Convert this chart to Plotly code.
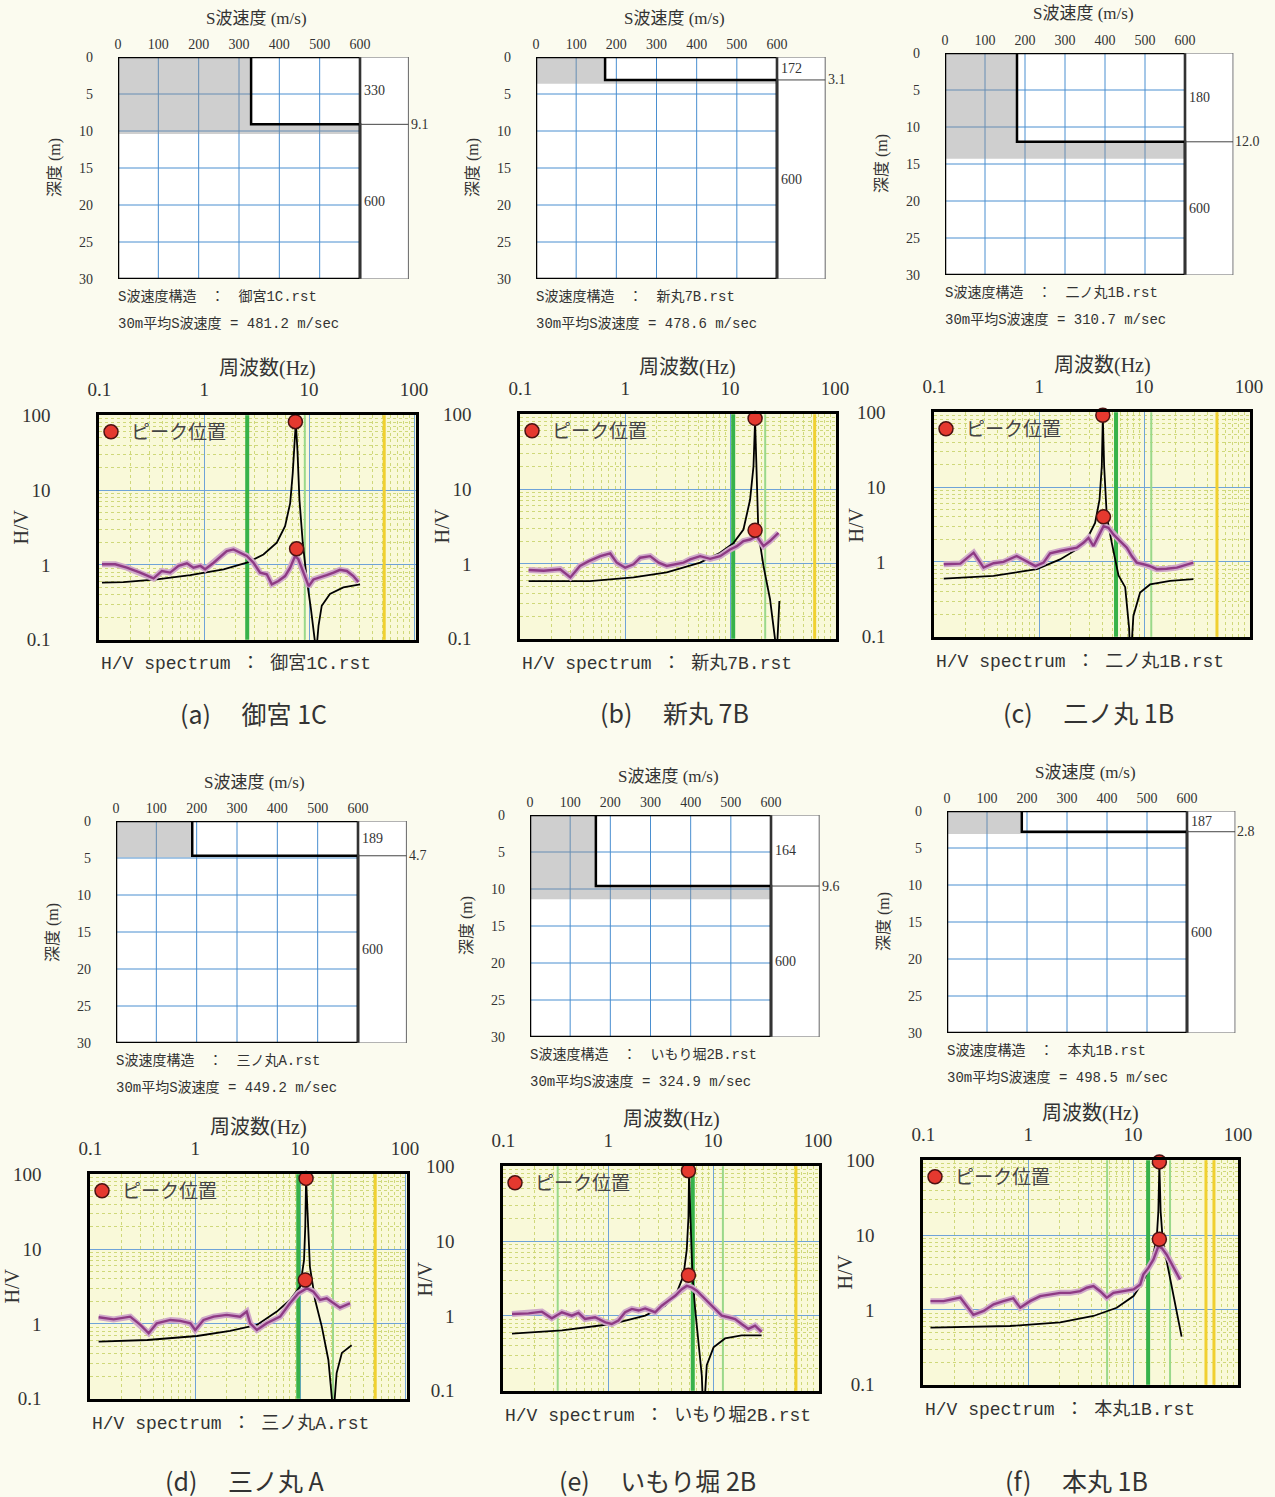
import plotly.graph_objects as go

# ---------------- data ----------------
SITE_NAMES = ["御宮1C", "新丸7B", "二ノ丸1B", "三ノ丸A", "いもり堀2B", "本丸1B"]
CAPTIONS = ["(a)　 御宮 1C", "(b)　 新丸 7B", "(c)　 二ノ丸 1B",
            "(d)　 三ノ丸 A", "(e)　 いもり堀 2B", "(f)　 本丸 1B"]
VS_LAYER1 = [330, 172, 180, 189, 164, 187]
H_LAYER1 = [9.1, 3.1, 12.0, 4.7, 9.6, 2.8]
VS_LAYER2 = [600, 600, 600, 600, 600, 600]
SHADE_DEPTH = [10.4, 3.6, 14.3, 4.9, 11.4, 3.1]
VS30 = [481.2, 478.6, 310.7, 449.2, 324.9, 498.5]

VS_TICKS = [0, 100, 200, 300, 400, 500, 600]
DEPTH_TICKS = [0, 5, 10, 15, 20, 25, 30]
FREQ_TICKS = [0.1, 1, 10, 100]
FREQ_TICKTEXT = ["0.1", "1", "10", "100"]
HV_TICKS = [0.1, 1, 10, 100]
HV_TICKTEXT = ["0.1", "1", "10", "100"]

# (a) 御宮1C
OBS_F_A = [0.106, 0.142, 0.183, 0.245, 0.329, 0.395, 0.474, 0.57, 0.684, 0.79, 0.92, 1.02, 1.23, 1.47,
           1.64, 1.90, 2.2, 2.55, 2.95, 3.41, 3.95, 4.41, 5.1, 5.9, 6.6, 7.36, 7.9, 8.8, 9.9, 11.0, 12.7,
           14.7, 17.1, 19.7, 22.9, 26.4, 29.5]
OBS_HV_A = [1.02, 1.02, 0.92, 0.79, 0.66, 0.83, 0.79, 0.97, 1.05, 0.92, 0.97, 0.875, 1.07, 1.32,
            1.53, 1.61, 1.46, 1.32, 1.07, 0.79, 0.75, 0.55, 0.61, 0.71, 0.92, 1.32, 1.19, 0.79, 0.52, 0.64, 0.68,
            0.73, 0.79, 0.86, 0.83, 0.71, 0.59]
THEO_F_A = [0.106, 0.17, 0.354, 0.736, 1.53, 2.55, 3.67, 4.92, 5.9, 6.6, 6.98, 7.3, 7.47, 7.74, 8.09,
            8.7, 9.5, 10.4, 11.2, 11.7, 12.3, 13.2, 15.8, 21.2, 30.6]
THEO_HV_A = [0.58, 0.59, 0.64, 0.73, 0.875, 1.07, 1.38, 1.98, 3.29, 6.7, 16.8, 46.6, 81, 34, 7.4,
             1.98, 0.64, 0.26, 0.126, 0.068, 0.155, 0.285, 0.41, 0.50, 0.55]
PEAK_F_A = [7.4, 7.6]
PEAK_HV_A = [82, 1.64]

# (b) 新丸7B
OBS_F_B = [0.12, 0.167, 0.24, 0.30, 0.37, 0.45, 0.58, 0.72, 0.83, 1.0, 1.2, 1.39, 1.73, 2.08, 2.49,
           2.99, 3.6, 4.16, 5.18, 6.45, 8.03, 10.0, 11.6, 13.4, 15.5, 17.9, 20.8, 24.0, 28.9]
OBS_HV_B = [0.83, 0.81, 0.85, 0.66, 0.94, 1.09, 1.27, 1.38, 1.04, 0.89, 0.99, 1.21, 1.27, 1.04, 0.94,
            0.99, 1.04, 1.15, 1.27, 1.17, 1.27, 1.56, 1.73, 2.02, 2.12, 2.35, 1.73, 2.02, 2.6]
THEO_F_B = [0.12, 0.46, 1.2, 2.49, 5.18, 8.03, 10.8, 13.4, 15.5, 16.7, 17.3, 17.9, 18.6, 20.8, 24.0,
            26.8, 27.6, 28.3, 29.5]
THEO_HV_B = [0.59, 0.59, 0.66, 0.77, 1.04, 1.41, 1.91, 2.88, 7.2, 20, 83, 20, 2.6, 0.94, 0.34,
             0.1, 0.05, 0.1, 0.32]
PEAK_F_B = [17.3, 17.3]
PEAK_HV_B = [88, 2.82]

# (c) 二ノ丸1B
OBS_F_C = [0.123, 0.177, 0.237, 0.295, 0.367, 0.457, 0.61, 0.76, 0.92, 1.1, 1.27, 1.58, 1.97, 2.28,
           2.64, 2.95, 3.29, 3.67, 4.1, 4.57, 5.1, 5.9, 6.84, 7.63, 8.5, 9.86, 11.4, 13.2, 16.4, 20.5,
           25.5, 29.5]
OBS_HV_C = [0.93, 0.95, 1.33, 0.84, 0.96, 1.0, 1.2, 1.03, 0.88, 0.98, 1.3, 1.4, 1.47, 1.55,
            1.8, 2.1, 1.63, 2.21, 3.0, 2.85, 2.33, 1.9, 1.55, 1.2, 0.98, 0.93, 0.88, 0.8, 0.81, 0.84,
            0.93, 0.98]
THEO_F_C = [0.123, 0.367, 0.95, 1.58, 2.28, 2.84, 3.41, 3.76, 3.95, 4.04, 4.16, 4.41, 4.92, 5.7, 6.6,
            7.2, 7.4, 7.9, 9.16, 11.4, 17.7, 29.5]
THEO_HV_C = [0.6, 0.65, 0.8, 1.08, 1.47, 2.0, 3.32, 6.8, 18.8, 87, 18.8, 4.07, 1.8, 0.66, 0.46,
             0.13, 0.04, 0.19, 0.39, 0.5, 0.56, 0.59]
PEAK_F_C = [4.04, 4.1]
PEAK_HV_C = [91, 4.0]

# (d) 三ノ丸A
OBS_F_D = [0.12, 0.167, 0.24, 0.30, 0.36, 0.43, 0.58, 0.72, 0.9, 1.0, 1.2, 1.5, 2.0, 2.68, 3.1,
           3.34, 3.87, 4.8, 6.45, 8.0, 9.6, 11.6, 13.4, 15.5, 17.9, 20.8, 24.0, 30.0]
OBS_HV_D = [1.23, 1.15, 1.25, 0.97, 0.75, 1.02, 1.13, 1.1, 1.02, 0.83, 1.13, 1.25, 1.32, 1.25, 1.46,
            1.02, 0.83, 1.02, 1.25, 1.89, 2.56, 3.0, 2.7, 2.09, 2.2, 1.89, 1.65, 1.89]
THEO_F_D = [0.12, 0.35, 1.04, 2.15, 3.87, 6.0, 8.0, 10.0, 10.9, 11.2, 11.4, 11.9, 12.4, 13.9, 16.1,
            18.6, 20.2, 20.8, 22.3, 25.0, 31.0]
THEO_HV_D = [0.58, 0.61, 0.69, 0.81, 0.97, 1.46, 2.09, 3.15, 7.1, 19.9, 88, 19.9, 5.8, 2.09, 0.92,
             0.33, 0.097, 0.06, 0.22, 0.41, 0.52]
PEAK_F_D = [11.4, 11.2]
PEAK_HV_D = [88, 3.86]

# (e) いもり堀2B
OBS_F_E = [0.121, 0.174, 0.233, 0.29, 0.362, 0.45, 0.52, 0.6, 0.75, 0.94, 1.08, 1.25, 1.45, 1.68,
           1.95, 2.25, 2.8, 3.24, 3.76, 4.35, 5.03, 5.61, 6.26, 6.98, 7.8, 9.0, 10.4, 12.1, 14.0, 16.2,
           18.7, 21.7, 25.1, 29.0]
OBS_HV_E = [1.06, 1.08, 1.14, 0.93, 1.12, 1.01, 1.1, 0.91, 0.96, 0.82, 0.78, 0.87, 1.12, 1.24,
            1.18, 1.26, 1.12, 1.37, 1.6, 1.86, 2.28, 2.52, 2.4, 2.17, 1.86, 1.52, 1.24, 1.01, 0.96, 0.91,
            0.78, 0.67, 0.74, 0.61]
THEO_F_E = [0.121, 0.362, 1.08, 2.25, 3.49, 4.51, 5.21, 5.61, 5.82, 5.9, 6.08, 6.36, 6.74, 7.25, 7.8,
            8.1, 8.7, 10.1, 13.0, 18.7, 29.0]
THEO_HV_E = [0.58, 0.64, 0.78, 1.01, 1.37, 2.06, 3.42, 7.7, 21, 88, 21, 3.42, 1.24, 0.45, 0.16,
             0.04, 0.22, 0.38, 0.5, 0.55, 0.55]
PEAK_F_E = [5.82, 5.82]
PEAK_HV_E = [87, 3.49]

# (f) 本丸1B
OBS_F_F = [0.117, 0.156, 0.225, 0.30, 0.376, 0.468, 0.58, 0.72, 0.84, 1.04, 1.3, 1.62, 2.02, 2.51,
           3.13, 3.62, 4.19, 4.85, 5.61, 6.5, 8.09, 10.1, 11.7, 12.5, 14.0, 15.6, 17.4, 18.8, 20.9,
           24.2, 28.0]
OBS_HV_F = [1.31, 1.31, 1.46, 0.86, 0.97, 1.19, 1.31, 1.43, 1.07, 1.31, 1.53, 1.61, 1.69, 1.69,
            1.78, 1.98, 2.08, 1.78, 1.46, 1.69, 1.78, 1.88, 2.19, 2.97, 3.64, 4.7, 7.06, 6.7, 5.47,
            3.64, 2.55]
THEO_F_F = [0.117, 0.67, 2.02, 4.19, 6.98, 10.1, 12.5, 15.1, 16.8, 17.4, 17.8, 18.3, 19.2, 20.9, 24.2, 29.0]
THEO_HV_F = [0.58, 0.61, 0.68, 0.83, 1.07, 1.53, 2.41, 4.47, 9.1, 20.6, 90, 20.6, 8.2, 4.47, 1.61, 0.44]
PEAK_F_F = [17.8, 17.8]
PEAK_HV_F = [95, 8.8]

# reference frequency lines (Hz)
GREEN_THICK_F = [[2.57], [10.7], [5.4], [9.6], [6.4], [13.9]]
GREEN_LIGHT_F = [[9.1], [21.6], [11.7], [20.6], [0.33, 12.4], [5.65, 22.5]]
YELLOW_F = [[52], [64], [49.5], [52], [61.6], [49.5, 59]]

OBS_F = [OBS_F_A, OBS_F_B, OBS_F_C, OBS_F_D, OBS_F_E, OBS_F_F]
OBS_HV = [OBS_HV_A, OBS_HV_B, OBS_HV_C, OBS_HV_D, OBS_HV_E, OBS_HV_F]
THEO_F = [THEO_F_A, THEO_F_B, THEO_F_C, THEO_F_D, THEO_F_E, THEO_F_F]
THEO_HV = [THEO_HV_A, THEO_HV_B, THEO_HV_C, THEO_HV_D, THEO_HV_E, THEO_HV_F]
PEAK_F = [PEAK_F_A, PEAK_F_B, PEAK_F_C, PEAK_F_D, PEAK_F_E, PEAK_F_F]
PEAK_HV = [PEAK_HV_A, PEAK_HV_B, PEAK_HV_C, PEAK_HV_D, PEAK_HV_E, PEAK_HV_F]

# ---------------- layout / style ----------------
W, H = 1275, 1497
SERIF = "Liberation Serif, Noto Sans CJK JP, serif"
MONO = "Liberation Mono, Noto Sans CJK JP, monospace"
SANS = "Noto Sans CJK JP, sans-serif"
TXT = "#333333"
PAPER = "#fbfbef"
HV_BG = "#f9f9d9"
BLUE_GRID = "#6fa3d8"
MINOR_GRID = "#cfd87a"
VEL_GRID = "#4a8fd0"

VS_MAX = 600
DEPTH_MAX = 30
VS_AXIS_MAX = 722
EXT_EDGE = 720
HV_MIN, HV_MAX = HV_TICKS[0], HV_TICKS[-1]

VEL_LEFT = [118, 536, 945, 116, 530, 947]
VEL_TOP = [57, 57, 53, 821, 815, 811]
VEL_W600 = [242, 241, 240, 242, 241, 240]
VEL_H = 222

HV_LEFT = [99, 520, 934, 90, 503, 923]
HV_TOP = [415, 414, 412, 1174, 1166, 1160]
HV_RIGHT = [416, 836, 1250, 407, 819, 1238]
HV_H = 225
DECADE_PX = 105
CAPTION_Y = [713, 712, 712, 1480, 1480, 1480]

MINOR_TICKS = [m * 10.0 ** e for e in (-1, 0, 1) for m in range(2, 10)]


def px(x):
    return x / W


def py(y):
    return 1 - y / H


def ref(n, c):
    return c if n == 1 else f"{c}{n}"


def axkey(n, c):
    return f"{c}axis" if n == 1 else f"{c}axis{n}"


fig = go.Figure()
layout = dict(width=W, height=H, margin=dict(l=0, r=0, t=0, b=0, pad=0, autoexpand=False),
              paper_bgcolor=PAPER, plot_bgcolor="white", showlegend=True)
shapes = []
annos = []


def anno(x, y, text, size, family=SERIF, xanchor="center", yanchor="middle", angle=0):
    annos.append(dict(x=px(x), y=py(y), xref="paper", yref="paper", text=text, showarrow=False,
                      xanchor=xanchor, yanchor=yanchor, textangle=angle,
                      font=dict(family=family, size=size, color=TXT)))


for i in range(6):
    nv, nh = 2 * i + 1, 2 * i + 2
    xv, yv, xh, yh = ref(nv, "x"), ref(nv, "y"), ref(nh, "x"), ref(nh, "y")

    # ---------- velocity profile ----------
    L, T, w6 = VEL_LEFT[i], VEL_TOP[i], VEL_W600[i]
    wext = w6 * VS_AXIS_MAX / VS_MAX
    layout[axkey(nv, "x")] = dict(domain=[px(L), px(L + wext)], range=[0, VS_AXIS_MAX], anchor=yv,
                                  side="top", tickmode="array", tickvals=VS_TICKS, ticks="",
                                  ticklabelstandoff=4, showgrid=False, zeroline=False, showline=False,
                                  fixedrange=True, tickfont=dict(family=SERIF, size=14, color=TXT))
    layout[axkey(nv, "y")] = dict(domain=[py(T + VEL_H), py(T)], range=[DEPTH_MAX, 0], anchor=xv,
                                  tickmode="array", tickvals=DEPTH_TICKS, ticks="", ticklabelstandoff=24,
                                  showgrid=False, zeroline=False, showline=False, fixedrange=True,
                                  tickfont=dict(family=SERIF, size=14, color=TXT))
    vs1, h1, vs2, sh = VS_LAYER1[i], H_LAYER1[i], VS_LAYER2[i], SHADE_DEPTH[i]
    for v in VS_TICKS[1:-1]:
        shapes.append(dict(type="line", xref=xv, yref=yv, x0=v, x1=v, y0=0, y1=DEPTH_MAX,
                           line=dict(color=VEL_GRID, width=1), layer="below"))
    for d in DEPTH_TICKS[1:-1]:
        shapes.append(dict(type="line", xref=xv, yref=yv, x0=0, x1=VS_MAX, y0=d, y1=d,
                           line=dict(color=VEL_GRID, width=1), layer="below"))
    fig.add_trace(go.Scatter(x=[0, vs1, vs1, VS_MAX, VS_MAX, 0], y=[0, 0, h1, h1, sh, sh],
                             fill="toself", fillcolor="rgba(140,140,140,0.42)", mode="lines",
                             line=dict(width=0), hoverinfo="skip", showlegend=False,
                             xaxis=xv, yaxis=yv))
    fig.add_trace(go.Scatter(x=[vs1, vs1, vs2, vs2], y=[0, h1, h1, DEPTH_MAX], mode="lines",
                             line=dict(color="black", width=2.5), hoverinfo="skip", showlegend=False,
                             xaxis=xv, yaxis=yv))
    shapes.append(dict(type="rect", xref=xv, yref=yv, x0=0, x1=VS_MAX, y0=0, y1=DEPTH_MAX,
                       line=dict(color="black", width=2.5), layer="above"))
    shapes.append(dict(type="rect", xref=xv, yref=yv, x0=VS_MAX, x1=EXT_EDGE, y0=0, y1=DEPTH_MAX,
                       line=dict(color="#666666", width=1), layer="above"))
    shapes.append(dict(type="line", xref=xv, yref=yv, x0=VS_MAX, x1=EXT_EDGE, y0=h1, y1=h1,
                       line=dict(color="#444444", width=1), layer="above"))
    for txt, yy in [(str(vs1), h1 / 2), (str(vs2), (h1 + DEPTH_MAX) / 2)]:
        annos.append(dict(x=VS_MAX + 4, y=yy, xref=xv, yref=yv, text=txt, showarrow=False,
                          xanchor="left", yanchor="middle", font=dict(family=SERIF, size=14, color=TXT)))
    annos.append(dict(x=EXT_EDGE + 1, y=h1, xref=xv, yref=yv, text=f"{h1:.1f}", showarrow=False,
                      xanchor="left", yanchor="middle", font=dict(family=SERIF, size=14, color=TXT)))
    anno(L + 138, T - 39, "S波速度 (m/s)", 17)
    anno(L - 63, T + VEL_H / 2, "深度 (m)", 16, angle=-90)
    anno(L - 2, T + VEL_H + 18, f"S波速度構造　：　{SITE_NAMES[i]}.rst", 14, family=MONO, xanchor="left")
    anno(L - 2, T + VEL_H + 45, f"30m平均S波速度 = {VS30[i]:.1f} m/sec", 14, family=MONO, xanchor="left")

    # ---------- H/V spectrum ----------
    Lh, Th, Rh = HV_LEFT[i], HV_TOP[i], HV_RIGHT[i]
    xr = -1 + (Rh - Lh) / DECADE_PX
    common = dict(type="log", showgrid=True, gridcolor=BLUE_GRID, gridwidth=1, showline=True,
                  mirror=True, linecolor="black", linewidth=2.5, zeroline=False, ticks="",
                  fixedrange=True, tickfont=dict(family=SERIF, size=19, color=TXT),
                  minor=dict(tickmode="array", tickvals=MINOR_TICKS, showgrid=True,
                             gridcolor=MINOR_GRID, griddash="dot", gridwidth=1, ticks=""))
    layout[axkey(nh, "x")] = dict(domain=[px(Lh), px(Rh)], range=[-1.003, xr], anchor=yh, side="top",
                                  tickmode="array", tickvals=FREQ_TICKS, ticktext=FREQ_TICKTEXT,
                                  ticklabelstandoff=9, **common)
    layout[axkey(nh, "y")] = dict(domain=[py(Th + HV_H), py(Th)], range=[-1.003, 2.003], anchor=xh,
                                  tickmode="array", tickvals=HV_TICKS, ticktext=HV_TICKTEXT,
                                  ticklabelstandoff=42, **common)
    shapes.append(dict(type="rect", xref=f"{xh} domain", yref=f"{yh} domain", x0=0, x1=1, y0=0, y1=1,
                       fillcolor=HV_BG, line=dict(width=0), layer="below"))
    for flist, col, wd in [(GREEN_LIGHT_F[i], "#9ad88a", 2), (GREEN_THICK_F[i], "#37b24a", 4),
                           (YELLOW_F[i], "#f0d030", 3)]:
        for f in flist:
            fig.add_trace(go.Scatter(x=[f, f], y=[HV_MIN, HV_MAX], mode="lines",
                                     line=dict(color=col, width=wd), hoverinfo="skip",
                                     showlegend=False, xaxis=xh, yaxis=yh))
    fig.add_trace(go.Scatter(x=THEO_F[i], y=THEO_HV[i], mode="lines",
                             line=dict(color="black", width=1.8), hoverinfo="skip", showlegend=False,
                             xaxis=xh, yaxis=yh))
    fig.add_trace(go.Scatter(x=OBS_F[i], y=OBS_HV[i], mode="lines",
                             line=dict(color="#cfa8c9", width=6), hoverinfo="skip", showlegend=False,
                             xaxis=xh, yaxis=yh))
    fig.add_trace(go.Scatter(x=OBS_F[i], y=OBS_HV[i], mode="lines",
                             line=dict(color="#8e3a84", width=2.4), hoverinfo="skip", showlegend=False,
                             xaxis=xh, yaxis=yh))
    lg = "legend" if i == 0 else f"legend{i + 1}"
    fig.add_trace(go.Scatter(x=PEAK_F[i], y=PEAK_HV[i], mode="markers", name="ピーク位置",
                             marker=dict(size=14, color="#e5392f", line=dict(color="#4a1212", width=1.5)),
                             cliponaxis=False, legend=lg, xaxis=xh, yaxis=yh))
    layout[lg] = dict(x=px(Lh - 8), y=py(Th + 17), xanchor="left", yanchor="middle",
                      bgcolor="rgba(0,0,0,0)", borderwidth=0, itemsizing="trace", itemwidth=30,
                      font=dict(family=SERIF, size=19, color="#444444"))
    anno((Lh + Rh) / 2 + 10, Th - 47, "周波数(Hz)", 20)
    anno(Lh - 79, Th + HV_H / 2, "H/V", 20, angle=-90)
    anno(Lh, Th + HV_H + 24, f"H/V spectrum ： {SITE_NAMES[i]}.rst", 18, family=MONO, xanchor="left")
    anno((Lh + Rh) / 2 - 4, CAPTION_Y[i], CAPTIONS[i], 25, family=SANS)

layout["shapes"] = shapes
layout["annotations"] = annos
fig.update_layout(**layout)
fig.write_html("out.html")
